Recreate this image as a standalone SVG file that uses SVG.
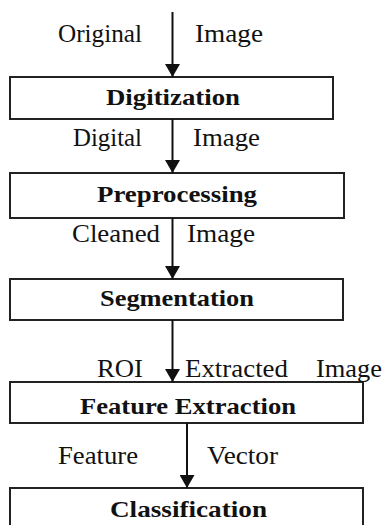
<svg xmlns="http://www.w3.org/2000/svg" width="386" height="525" viewBox="0 0 386 525">
<style>
.box{fill:#fff;stroke:#222;stroke-width:2}
.t{font-family:"Liberation Serif","Times New Roman",Times,serif;font-size:25px;fill:#111}
.b{font-family:"Liberation Serif","Times New Roman",Times,serif;font-size:24px;font-weight:bold;fill:#111}
.c{stroke:#111;stroke-width:2;fill:none;marker-end:url(#ah)}
</style>
<defs>
<marker id="ah" markerWidth="13" markerHeight="15" refX="13" refY="7.5" orient="auto" markerUnits="userSpaceOnUse" viewBox="0 0 13 15">
<path d="M0,0 L13,7.5 L0,15 Z" fill="#111"/>
</marker>
</defs>
<rect width="386" height="525" fill="#fff"/>
<g id="digitization">
<rect class="box" x="10" y="77" width="323" height="42"/>
<text class="b" x="106" y="105" textLength="134" lengthAdjust="spacingAndGlyphs">Digitization</text>
</g>
<g id="preprocessing">
<rect class="box" x="10" y="173" width="334" height="45"/>
<text class="b" x="97" y="202" textLength="160" lengthAdjust="spacingAndGlyphs">Preprocessing</text>
</g>
<g id="segmentation">
<rect class="box" x="10" y="279" width="333" height="41"/>
<text class="b" x="100" y="306" textLength="154" lengthAdjust="spacingAndGlyphs">Segmentation</text>
</g>
<g id="feature-extraction">
<rect class="box" x="10" y="382" width="353" height="41"/>
<text class="b" x="80" y="414" textLength="216" lengthAdjust="spacingAndGlyphs">Feature Extraction</text>
</g>
<g id="classification">
<rect class="box" x="10" y="488" width="353" height="45"/>
<text class="b" x="110" y="517" textLength="157" lengthAdjust="spacingAndGlyphs">Classification</text>
</g>
<g id="connectors">
<line class="c" x1="172.5" y1="12" x2="172.5" y2="77"/>
<line class="c" x1="172.5" y1="119" x2="172.5" y2="173"/>
<line class="c" x1="172.5" y1="218" x2="172.5" y2="279"/>
<line class="c" x1="172.5" y1="320" x2="172.5" y2="382"/>
<line class="c" x1="187" y1="423" x2="187" y2="488"/>
<text class="t" x="58" y="42" textLength="84" lengthAdjust="spacingAndGlyphs">Original</text>
<text class="t" x="195" y="42" textLength="68" lengthAdjust="spacingAndGlyphs">Image</text>
<text class="t" x="73" y="146" textLength="69" lengthAdjust="spacingAndGlyphs">Digital</text>
<text class="t" x="193" y="146" textLength="67" lengthAdjust="spacingAndGlyphs">Image</text>
<text class="t" x="72" y="242" textLength="88" lengthAdjust="spacingAndGlyphs">Cleaned</text>
<text class="t" x="187" y="242" textLength="68" lengthAdjust="spacingAndGlyphs">Image</text>
<text class="t" x="97" y="377" textLength="46" lengthAdjust="spacingAndGlyphs">ROI</text>
<text class="t" x="185" y="377" textLength="103" lengthAdjust="spacingAndGlyphs">Extracted</text>
<text class="t" x="316" y="377" textLength="66" lengthAdjust="spacingAndGlyphs">Image</text>
<text class="t" x="58" y="464" textLength="80" lengthAdjust="spacingAndGlyphs">Feature</text>
<text class="t" x="207" y="464" textLength="71" lengthAdjust="spacingAndGlyphs">Vector</text>
</g>
</svg>
